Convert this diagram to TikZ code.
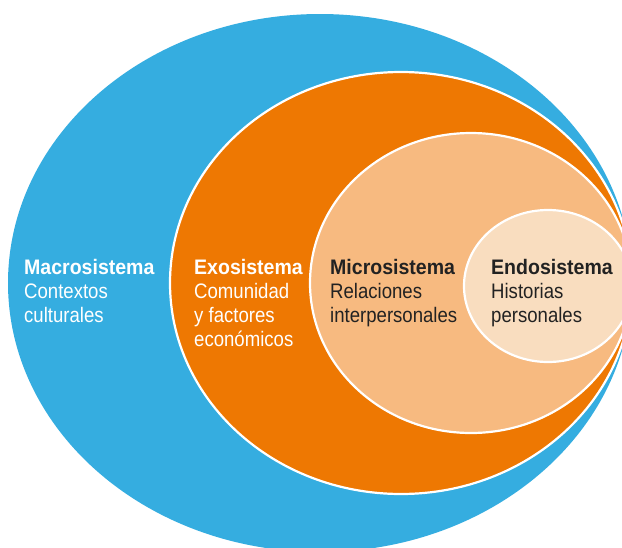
\documentclass[tikz,border=0pt]{standalone}
\usepackage{fontspec}
\setmainfont{Liberation Sans}
\newfontfamily\headfont{Liberation Sans}[FakeStretch=0.93]
\newfontfamily\bodyfont{Liberation Sans}[FakeStretch=0.885]

\definecolor{macroblue}{HTML}{35ADE0}
\definecolor{exoorange}{HTML}{EE7802}
\definecolor{microorange}{HTML}{F7BA80}
\definecolor{endocream}{HTML}{F9DDBF}
\definecolor{darktext}{HTML}{222222}

\begin{document}
\begin{tikzpicture}[x=1pt,y=-1pt,
  ring/.style={line width=2.2pt, draw=white},
  headline/.style={anchor=base west, inner sep=0pt, font=\headfont\bfseries\fontsize{21}{24}\selectfont},
  bodyline/.style={anchor=base west, inner sep=0pt, font=\bodyfont\fontsize{21}{24}\selectfont},
  lighttext/.style={text=white},
  darkbody/.style={text=darktext}]
  \useasboundingbox (0,0) rectangle (622,547);
  \clip (0,0) rectangle (622,547);

  % nested systems, outermost first
  \fill[macroblue] (320,283) ellipse [x radius=312pt, y radius=269pt];
  \filldraw[fill=exoorange, ring] (401,283) ellipse [x radius=231pt, y radius=211pt];
  \filldraw[fill=microorange, ring] (471,283) ellipse [x radius=161pt, y radius=150pt];
  \filldraw[fill=endocream, ring] (548,286) ellipse [x radius=84pt, y radius=76pt];

  % Macrosistema
  \node[headline, lighttext] (macroH) at (24,274) {Macrosistema};
  \node[bodyline, lighttext] (macroA) at (24,298) {Contextos};
  \node[bodyline, lighttext] (macroB) at (24,322) {culturales};

  % Exosistema
  \node[headline, lighttext] (exoH) at (194,274) {Exosistema};
  \node[bodyline, lighttext] (exoA) at (194,298) {Comunidad};
  \node[bodyline, lighttext] (exoB) at (194,322) {y factores};
  \node[bodyline, lighttext] (exoC) at (194,346) {económicos};

  % Microsistema
  \node[headline, darkbody] (microH) at (330,274) {Microsistema};
  \node[bodyline, darkbody] (microA) at (330,298) {Relaciones};
  \node[bodyline, darkbody] (microB) at (330,322) {interpersonales};

  % Endosistema
  \node[headline, darkbody] (endoH) at (491,274) {Endosistema};
  \node[bodyline, darkbody] (endoA) at (491,298) {Historias};
  \node[bodyline, darkbody] (endoB) at (491,322) {personales};
\end{tikzpicture}
\end{document}
